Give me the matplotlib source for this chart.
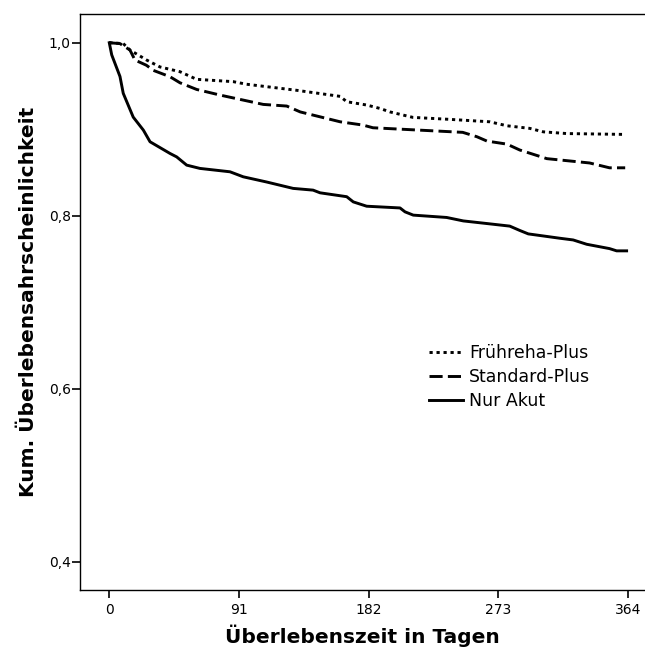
import numpy as np
import matplotlib.pyplot as plt

# Kaplan-Meier curves (days, survival)
t_frueh = [0, 9.8, 14.5, 26.2, 35.6, 49.6, 61.3, 87, 96.4, 131.5, 162, 166.6, 180.6, 190,
           197, 213, 239, 267, 279, 295, 304.5, 321, 362]
s_frueh = [1.0, 0.999, 0.9916, 0.980, 0.972, 0.9665, 0.9577, 0.955, 0.952, 0.945, 0.938, 0.9318,
           0.928, 0.924, 0.920, 0.9137, 0.9114, 0.9086, 0.904, 0.901, 0.897, 0.895, 0.894]

t_std = [0, 7.5, 14.5, 18, 26, 31, 42.6, 49.6, 61.3, 77.7, 91.7, 108, 124.5, 134, 162, 178,
         185, 248, 258, 265, 279, 288, 297.5, 307, 337, 351, 362]
s_std = [1.0, 0.999, 0.9916, 0.980, 0.974, 0.968, 0.9607, 0.9537, 0.946, 0.9395, 0.9345, 0.9287,
         0.9268, 0.920, 0.9086, 0.9048, 0.9017, 0.8964, 0.8913, 0.8863, 0.8828, 0.876, 0.871,
         0.866, 0.861, 0.8554, 0.8554]

t_akut = [0, 1.7, 7.5, 9.8, 16.8, 23.9, 28.6, 42.6, 47.3, 54.3, 63.6, 84.7, 94, 110.4, 129,
          143, 147.9, 166.6, 171.2, 180.6, 204, 207.5, 213.3, 236.7, 248.4, 264.8, 281, 288,
          294, 309, 316, 325.5, 335, 351, 356, 363]
s_akut = [1.0, 0.986, 0.961, 0.9415, 0.914, 0.899, 0.8855, 0.872, 0.868, 0.8585, 0.8547, 0.8508,
          0.845, 0.839, 0.8316, 0.8296, 0.8265, 0.822, 0.816, 0.811, 0.809, 0.8045, 0.8007,
          0.798, 0.794, 0.791, 0.788, 0.783, 0.779, 0.7756, 0.774, 0.772, 0.767, 0.762, 0.7594,
          0.7594]

xticks = [0, 91, 182, 273, 364]
yticks = [0.4, 0.6, 0.8, 1.0]
ylabels = ['0,4', '0,6', '0,8', '1,0']

fig = plt.figure(figsize=(6.45, 6.49), dpi=100)
ax = fig.add_axes([0.1248, 0.0909, 0.8752, 0.8875])

ax.plot(t_frueh, s_frueh, color='black', lw=2.1, ls=(0, (1.1, 1.3)), label='Frühreha-Plus')
ax.plot(t_std, s_std, color='black', lw=2.1, ls=(0, (4.5, 1.8)), label='Standard-Plus')
ax.plot(t_akut, s_akut, color='black', lw=2.1, label='Nur Akut')

ax.set_xlim(-20.2, 375.9)
ax.set_ylim(0.3673, 1.0332)
ax.set_xticks(xticks)
ax.set_xticklabels([str(v) for v in xticks])
ax.set_yticks(yticks)
ax.set_yticklabels(ylabels)
ax.tick_params(direction='out', length=6, width=1.2, labelsize=10, colors='black')
ax.tick_params(axis='y', pad=1)
ax.tick_params(axis='x', pad=3)
ax.spines['right'].set_visible(False)
for s in ['top', 'left', 'bottom']:
    ax.spines[s].set_linewidth(1.0)

ax.set_xlabel('Überlebenszeit in Tagen', fontsize=14.5, fontweight='bold', labelpad=6)
ax.set_ylabel('Kum. Überlebensahrscheinlichkeit', fontsize=14.5, fontweight='bold', labelpad=8)

ax.legend(loc='center left', bbox_to_anchor=(0.665, 0.419), bbox_transform=fig.transFigure,
          frameon=False, fontsize=12.5, handlelength=1.95, handletextpad=0.35,
          labelspacing=0.33, borderpad=0, borderaxespad=0)

plt.savefig('out.png', dpi=100)
